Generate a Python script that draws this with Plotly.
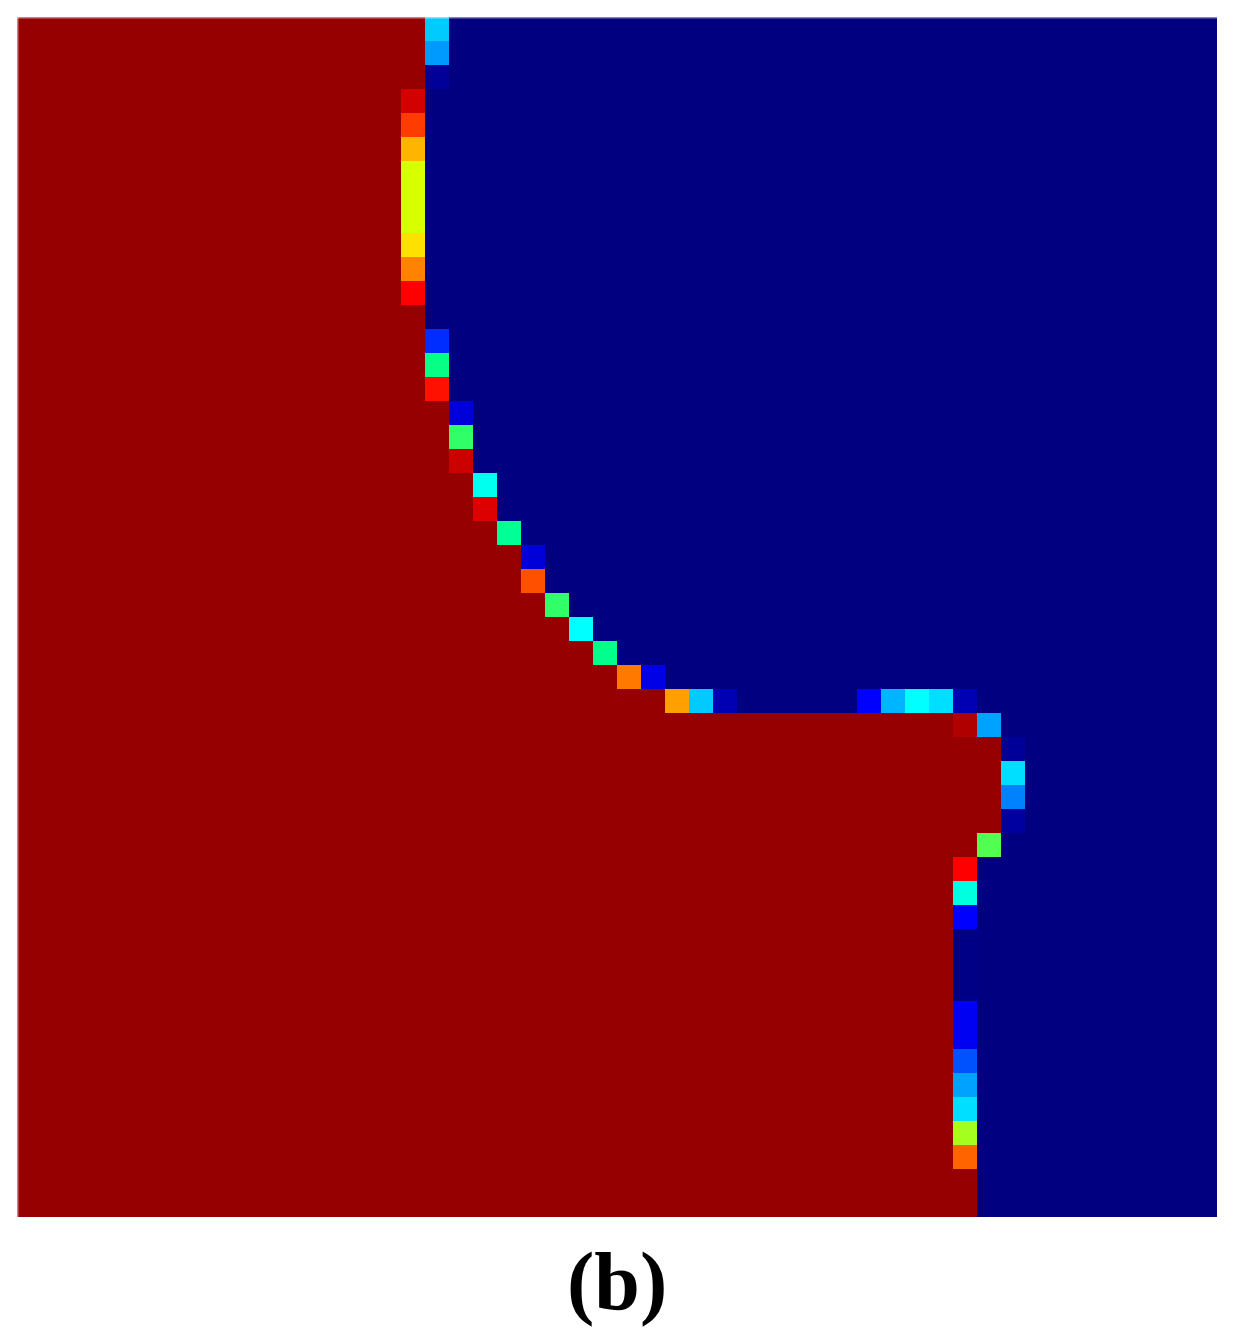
import plotly.graph_objects as go

N_ROWS = 50
N_COLS = 50

# number of fully "red" (value 1) cells at the left of each row (top row first)
red_count = ([17] * 3 + [16] * 9 + [17] * 4 + [18] * 3 + [19] * 2 + [20] + [21] * 2
             + [22, 23, 24, 25, 27, 39, 41, 41, 41, 41, 40] + [39] * 13 + [40] * 2)

# interface cells: row, column, value
iface_rows = [0, 1, 2,
              3, 4, 5, 6, 7, 8, 9, 10, 11,
              13, 14, 15, 16, 17, 18, 19, 20, 21, 22, 23, 24, 25, 26,
              27, 27, 28, 28, 28, 28, 28, 28, 28, 28,
              29, 29, 30, 31, 32, 33, 34,
              35, 36, 37, 38, 39, 40, 41, 42, 43, 44, 45, 46, 47]
iface_cols = [17, 17, 17,
              16, 16, 16, 16, 16, 16, 16, 16, 16,
              17, 17, 17, 18, 18, 18, 19, 19, 20, 21, 21, 22, 23, 24,
              25, 26, 27, 28, 29, 35, 36, 37, 38, 39,
              39, 40, 41, 41, 41, 41, 40,
              39, 39, 39, 39, 39, 39, 39, 39, 39, 39, 39, 39, 39]
iface_vals = [0.33, 0.28, 0.02,
              0.93, 0.81, 0.69, 0.58, 0.58, 0.58, 0.645, 0.74, 0.88,
              0.15, 0.455, 0.86, 0.07, 0.48, 0.94, 0.39, 0.92, 0.445, 0.07, 0.79, 0.48, 0.38, 0.45,
              0.75, 0.08, 0.71, 0.33, 0.04, 0.10, 0.31, 0.38, 0.35, 0.04,
              0.97, 0.29, 0.02, 0.35, 0.25, 0.025, 0.50,
              0.88, 0.40, 0.10, 0.005, 0.005, 0.005, 0.09, 0.09, 0.19, 0.29, 0.35, 0.55, 0.77]

label_text = "(b)"

# build the grid from the arrays above
z = []
for r in range(N_ROWS):
    z.append([1.0 if c < red_count[r] else 0.0 for c in range(N_COLS)])
for r, c, v in zip(iface_rows, iface_cols, iface_vals):
    z[r][c] = v

colorscale = [
    [0.00, "rgb(0,0,128)"],
    [0.10, "rgb(0,0,255)"],
    [0.20, "rgb(0,90,255)"],
    [0.30, "rgb(0,170,255)"],
    [0.38, "rgb(0,255,255)"],
    [0.45, "rgb(0,255,140)"],
    [0.50, "rgb(80,255,80)"],
    [0.58, "rgb(216,255,0)"],
    [0.64, "rgb(255,230,0)"],
    [0.70, "rgb(255,170,0)"],
    [0.76, "rgb(255,110,0)"],
    [0.82, "rgb(255,50,0)"],
    [0.88, "rgb(255,0,0)"],
    [1.00, "rgb(150,0,0)"],
]

fig = go.Figure(go.Heatmap(
    z=z,
    x=list(range(N_COLS)),
    y=list(range(N_ROWS)),
    colorscale=colorscale,
    zmin=0, zmax=1,
    zsmooth=False,
    showscale=False,
    hoverinfo="skip",
))

fig.update_xaxes(visible=False, range=[-0.5, N_COLS - 0.5], showgrid=False, zeroline=False)
fig.update_yaxes(visible=False, range=[N_ROWS - 0.5, -0.5], showgrid=False, zeroline=False)

# faint light edge on top and left
fig.add_shape(type="line", xref="paper", yref="paper", x0=0, x1=1, y0=1, y1=1,
              line=dict(color="rgba(255,255,255,0.5)", width=3))
fig.add_shape(type="line", xref="paper", yref="paper", x0=0, x1=0, y0=0, y1=1,
              line=dict(color="rgba(255,255,255,0.5)", width=3))

fig.add_annotation(
    text="<b>" + label_text + "</b>",
    xref="paper", yref="paper", x=0.5, y=-0.054,
    xanchor="center", yanchor="middle",
    showarrow=False,
    font=dict(family="Liberation Serif", size=82, color="black"),
)

fig.update_layout(
    width=1228, height=1320,
    margin=dict(l=9, r=19, t=9, b=111),
    paper_bgcolor="white",
    plot_bgcolor="white",
)

fig.write_html("out.html")
